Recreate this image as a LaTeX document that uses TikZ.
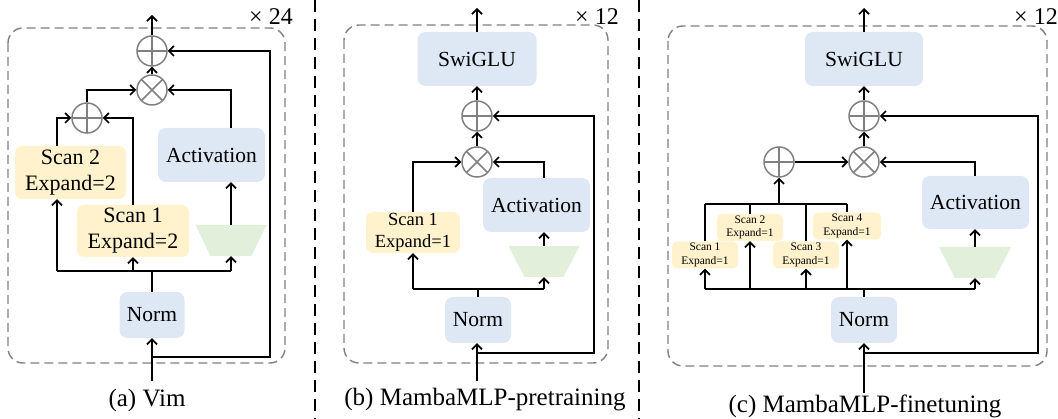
\documentclass[tikz,border=0pt]{standalone}
\usepackage{fontspec}
\setmainfont{Liberation Serif}
\usetikzlibrary{arrows.meta,calc}
\definecolor{blueF}{HTML}{DEE8F4}
\definecolor{yellowF}{HTML}{FFF2CC}
\definecolor{greenF}{HTML}{E2EFDA}
\definecolor{opgray}{HTML}{808080}
\definecolor{boxgray}{HTML}{7F7F7F}
\tikzset{
  arr/.style={-{Straight Barb[length=5pt,width=10pt]}},
  ln/.style={line width=1.7pt, black},
  bluebox/.style={fill=blueF, rounded corners=8pt, inner sep=0pt, align=center, font=\fontsize{21.5}{24}\selectfont},
  scanbox/.style={fill=yellowF, rounded corners=7pt, inner sep=0pt, align=center},
  plusop/.style={circle, draw=opgray, line width=1.5pt, minimum size=30pt, inner sep=0pt,
    path picture={\draw[opgray, line width=1.5pt] (path picture bounding box.north) -- (path picture bounding box.south)
      (path picture bounding box.west) -- (path picture bounding box.east);}},
  timesop/.style={circle, draw=opgray, line width=1.5pt, minimum size=30pt, inner sep=0pt,
    path picture={\draw[opgray, line width=1.5pt] (path picture bounding box.north west) -- (path picture bounding box.south east)
      (path picture bounding box.north east) -- (path picture bounding box.south west);}},
  trapbox/.style={rectangle, inner sep=0pt, minimum height=31pt, minimum width=71pt,
    path picture={\fill[greenF] (path picture bounding box.north west) -- (path picture bounding box.north east)
      -- ($(path picture bounding box.south east)+(-#1,0)$) -- ($(path picture bounding box.south west)+(#1,0)$) -- cycle;}},
  blockbox/.style={draw=boxgray, line width=1.4pt, dash pattern=on 9pt off 5pt, rounded corners=15pt},
  divider/.style={draw=black, line width=1.5pt, dash pattern=on 12pt off 7pt},
  caption/.style={inner sep=0pt, font=\fontsize{25}{28}\selectfont},
  rep/.style={inner sep=0pt, font=\fontsize{24}{26}\selectfont},
}
\begin{document}
\begin{tikzpicture}[x=1pt,y=-1pt]
\useasboundingbox (0,0) rectangle (1058,419);
% dividers
\draw[divider] (315,0) -- (315,419);
\draw[divider] (639,0) -- (639,419);

% ================= Panel (a) =================
\draw[blockbox] (8,28) rectangle (285,363);
\node[rep] (repA) at (271,17) {× 24};
\node[plusop] (plusA) at (152,51) {};
\node[timesop] (timesA) at (152,90) {};
\node[plusop] (plusTwoA) at (87,118) {};
\node[bluebox, minimum width=65pt, minimum height=46pt] (normA) at (152,315) {Norm};
\node[scanbox, minimum width=112pt, minimum height=52pt, font=\fontsize{22}{26}\selectfont] (scanOneA) at (133,231) {Scan 1\\Expand=2};
\node[scanbox, minimum width=111pt, minimum height=53pt, font=\fontsize{22}{26}\selectfont] (scanTwoA) at (70.5,172.5) {Scan 2\\Expand=2};
\node[bluebox, minimum width=107pt, minimum height=54pt] (actA) at (211.5,155) {Activation};
\node[trapbox=15pt] (trapA) at (231,240.5) {};
\node[caption] (capA) at (147,400) {(a) Vim};
\coordinate (inA) at (152,381);
\coordinate (jA) at (152,357);
\coordinate (rA) at (270,357);
\coordinate (outA) at (152,15);
\coordinate (busAL) at (57,271);
\coordinate (busAR) at (231,271);

\draw[ln,arr] (inA) -- (normA.south);
\draw[ln,arr] (jA) -- (rA) |- (plusA.east);
\draw[ln] (busAL) -- (busAR);
\draw[ln] (normA.north) -- (normA.north |- busAL);
\draw[ln,arr] (busAL) -- (busAL |- scanTwoA.south);
\draw[ln,arr] (scanOneA.south |- busAL) -- (scanOneA.south);
\draw[ln,arr] (busAR) -- (trapA.south);
\draw[ln,arr] (trapA.north) -- (trapA.north |- actA.south);
\draw[ln,arr] (trapA.north |- actA.north) |- (timesA.east);
\draw[ln,arr] (scanOneA.north) |- (plusTwoA.east);
\draw[ln,arr] (busAL |- scanTwoA.north) |- (plusTwoA.west);
\draw[ln,arr] (plusTwoA.north) |- (timesA.west);
\draw[ln,arr] (timesA.north) -- (plusA.south);
\draw[ln,arr] (plusA.north) -- (outA);

% ================= Panel (b) =================
\draw[blockbox] (344,25) rectangle (608,363);
\node[rep] (repB) at (597,17) {× 12};
\node[bluebox, minimum width=119pt, minimum height=54pt] (swiB) at (477,59) {SwiGLU};
\node[plusop] (plusB) at (477,116) {};
\node[timesop] (timesB) at (477,162) {};
\node[bluebox, minimum width=107pt, minimum height=54pt] (actB) at (536.5,205) {Activation};
\node[scanbox, minimum width=94pt, minimum height=41pt, font=\fontsize{18.5}{22}\selectfont] (scanB) at (413,232.5) {Scan 1\\Expand=1};
\node[trapbox=16pt] (trapB) at (544,261.5) {};
\node[bluebox, minimum width=66pt, minimum height=46pt] (normB) at (478,320) {Norm};
\node[caption] (capB) at (485,400) {(b) MambaMLP-pretraining};
\coordinate (inB) at (477,381);
\coordinate (jB) at (477,353);
\coordinate (rB) at (594,353);
\coordinate (outB) at (477,8);
\coordinate (busBL) at (413,289);
\coordinate (busBR) at (544,289);

\draw[ln,arr] (inB) -- (inB |- normB.south);
\draw[ln,arr] (jB) -- (rB) |- (plusB.east);
\draw[ln] (busBL) -- (busBR);
\draw[ln] (normB.north) -- (normB.north |- busBL);
\draw[ln,arr] (busBL) -- (scanB.south);
\draw[ln,arr] (busBR) -- (trapB.south);
\draw[ln,arr] (trapB.north) -- (trapB.north |- actB.south);
\draw[ln,arr] (trapB.north |- actB.north) |- (timesB.east);
\draw[ln,arr] (scanB.north) |- (timesB.west);
\draw[ln,arr] (timesB.north) -- (plusB.south);
\draw[ln,arr] (plusB.north) -- (swiB.south);
\draw[ln,arr] (swiB.north) -- (outB);

% ================= Panel (c) =================
\draw[blockbox] (668,26) rectangle (1047,366);
\node[rep] (repC) at (1036,17) {× 12};
\node[bluebox, minimum width=118pt, minimum height=54pt] (swiC) at (864,59) {SwiGLU};
\node[plusop] (plusC) at (864,116) {};
\node[timesop] (timesC) at (864,162) {};
\node[plusop] (plusSC) at (779,162) {};
\node[bluebox, minimum width=107pt, minimum height=53pt] (actC) at (975.5,202.5) {Activation};
\tikzset{smallscan/.style={scanbox, minimum width=66pt, minimum height=27pt, rounded corners=5pt, font=\fontsize{11.5}{13.5}\selectfont}}
\node[smallscan] (sOneC) at (705,255) {Scan 1\\Expand=1};
\node[smallscan] (sTwoC) at (750,227.5) {Scan 2\\Expand=1};
\node[smallscan] (sThreeC) at (806,255) {Scan 3\\Expand=1};
\node[smallscan, minimum width=68pt] (sFourC) at (847,226) {Scan 4\\Expand=1};
\node[trapbox=16pt, minimum width=72pt] (trapC) at (975,262.5) {};
\node[bluebox, minimum width=66pt, minimum height=46pt] (normC) at (864,320) {Norm};
\node[caption] (capC) at (865,406) {(c) MambaMLP-finetuning};
\coordinate (inC) at (864,393);
\coordinate (jC) at (864,353);
\coordinate (rC) at (1038,353);
\coordinate (outC) at (864,8);
\coordinate (topL) at (705,204);
\coordinate (topR) at (847,204);
\coordinate (botL) at (705,289);
\coordinate (botR) at (975,289);

\draw[ln,arr] (inC) -- (normC.south);
\draw[ln,arr] (jC) -- (rC) |- (plusC.east);
\draw[ln] (botL) -- (botR);
\draw[ln] (normC.north) -- (normC.north |- botL);
\draw[ln,arr] (botL) -- (sOneC.south);
\draw[ln,arr] (sTwoC.south |- botL) -- (sTwoC.south);
\draw[ln,arr] (sThreeC.south |- botL) -- (sThreeC.south);
\draw[ln,arr] (sFourC.south |- botL) -- (sFourC.south);
\draw[ln,arr] (botR) -- (trapC.south);
\draw[ln] (topL) -- (topR);
\draw[ln] (topL) -- (sOneC.north);
\draw[ln] (sTwoC.north |- topL) -- (sTwoC.north);
\draw[ln] (sThreeC.north |- topL) -- (sThreeC.north);
\draw[ln] (topR) -- (sFourC.north);
\draw[ln,arr] (plusSC.south |- topL) -- (plusSC.south);
\draw[ln,arr] (plusSC.east) -- (timesC.west);
\draw[ln,arr] (trapC.north) -- (trapC.north |- actC.south);
\draw[ln,arr] (trapC.north |- actC.north) |- (timesC.east);
\draw[ln,arr] (timesC.north) -- (plusC.south);
\draw[ln,arr] (plusC.north) -- (swiC.south);
\draw[ln,arr] (swiC.north) -- (outC);
\end{tikzpicture}
\end{document}
